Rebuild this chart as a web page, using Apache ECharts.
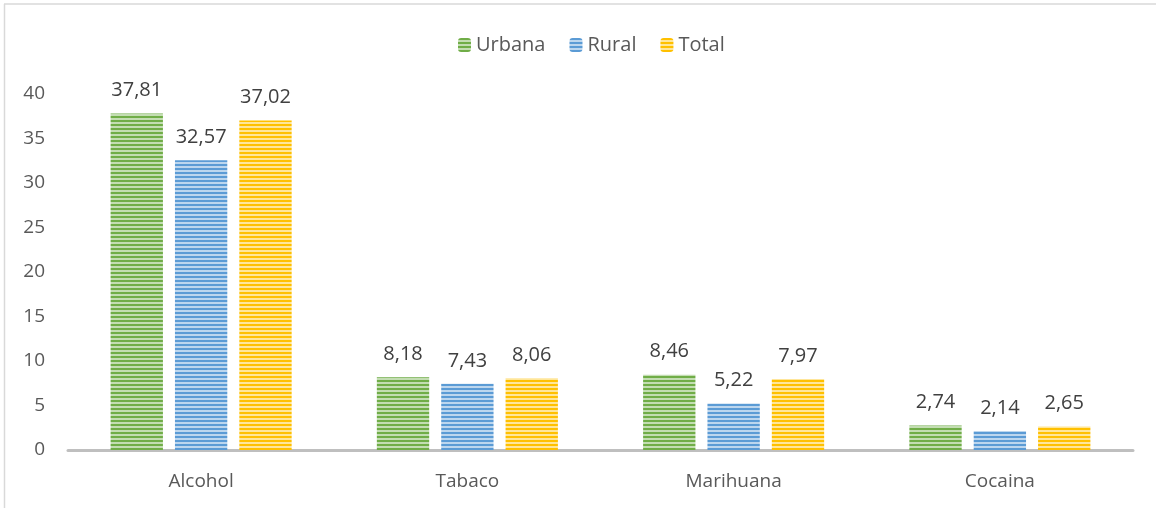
<!DOCTYPE html>
<html>
<head>
<meta charset="utf-8">
<script src="https://cdn.jsdelivr.net/npm/echarts@6/dist/echarts.min.js"></script>
<style>
html,body{margin:0;padding:0;background:#fff;}
#c{width:1156px;height:508px;}
</style>
</head>
<body>
<div id="c"></div>
<script>
const categories = ['Alcohol', 'Tabaco', 'Marihuana', 'Cocaina'];
const urbana = [37.81, 8.18, 8.46, 2.74];
const rural = [32.57, 7.43, 5.22, 2.14];
const total = [37.02, 8.06, 7.97, 2.65];
const seriesNames = ['Urbana', 'Rural', 'Total'];
const yTicks = [0, 5, 10, 15, 20, 25, 30, 35, 40];

function stripe(color, tint) {
  const cv = document.createElement('canvas');
  cv.width = 4; cv.height = 4;
  const ctx = cv.getContext('2d');
  ctx.fillStyle = tint; ctx.fillRect(0, 0, 4, 4);
  ctx.fillStyle = color; ctx.fillRect(0, 0, 4, 2);
  return { image: cv, repeat: 'repeat' };
}
const colors = ['#70AD47', '#5B9BD5', '#FFC000'];
const tints = ['#C3DDB2', '#BCD6EE', '#FFE699'];

const font = 'Open Sans, Liberation Sans, sans-serif';
const chart = echarts.init(document.getElementById('c'), null, { renderer: 'canvas' });

function mk(name, data, i) {
  return {
    name: name,
    type: 'bar',
    data: data,
    barGap: '23%',
    barCategoryGap: '32%',
    itemStyle: { color: stripe(colors[i], tints[i]) },
    label: {
      show: true,
      position: 'top',
      distance: 13,
      color: '#404040',
      fontSize: 20,
      fontFamily: font,
      formatter: p => p.value.toFixed(2).replace('.', ',')
    }
  };
}

chart.setOption({
  animation: false,
  backgroundColor: '#fff',
  legend: {
    top: 30,
    left: 453,
    itemWidth: 13,
    itemHeight: 14,
    itemGap: 24,
    textStyle: { color: '#595959', fontSize: 20, fontFamily: font },
    data: seriesNames.map((n, i) => ({ name: n, itemStyle: { color: stripe(colors[i], tints[i]) } }))
  },
  grid: { left: 68, right: 23, top: 94, bottom: 58 },
  xAxis: {
    type: 'category',
    data: categories,
    axisLine: { lineStyle: { color: '#BFBFBF', width: 3 } },
    axisTick: { show: false },
    axisLabel: { color: '#595959', fontSize: 19, fontFamily: font, margin: 22 }
  },
  yAxis: {
    type: 'value',
    min: yTicks[0],
    max: yTicks[yTicks.length - 1],
    interval: 5,
    splitLine: { show: false },
    axisLine: { show: false },
    axisTick: { show: false },
    axisLabel: { color: '#595959', fontSize: 19, fontFamily: font, margin: 23 }
  },
  graphic: [
    { type: 'line', shape: { x1: 4, y1: 4, x2: 1156, y2: 4 }, style: { stroke: '#D9D9D9', lineWidth: 1.5 } },
    { type: 'line', shape: { x1: 4.5, y1: 4, x2: 4.5, y2: 508 }, style: { stroke: '#D9D9D9', lineWidth: 1.5 } }
  ],
  series: [mk('Urbana', urbana, 0), mk('Rural', rural, 1), mk('Total', total, 2)]
});
</script>
</body>
</html>
